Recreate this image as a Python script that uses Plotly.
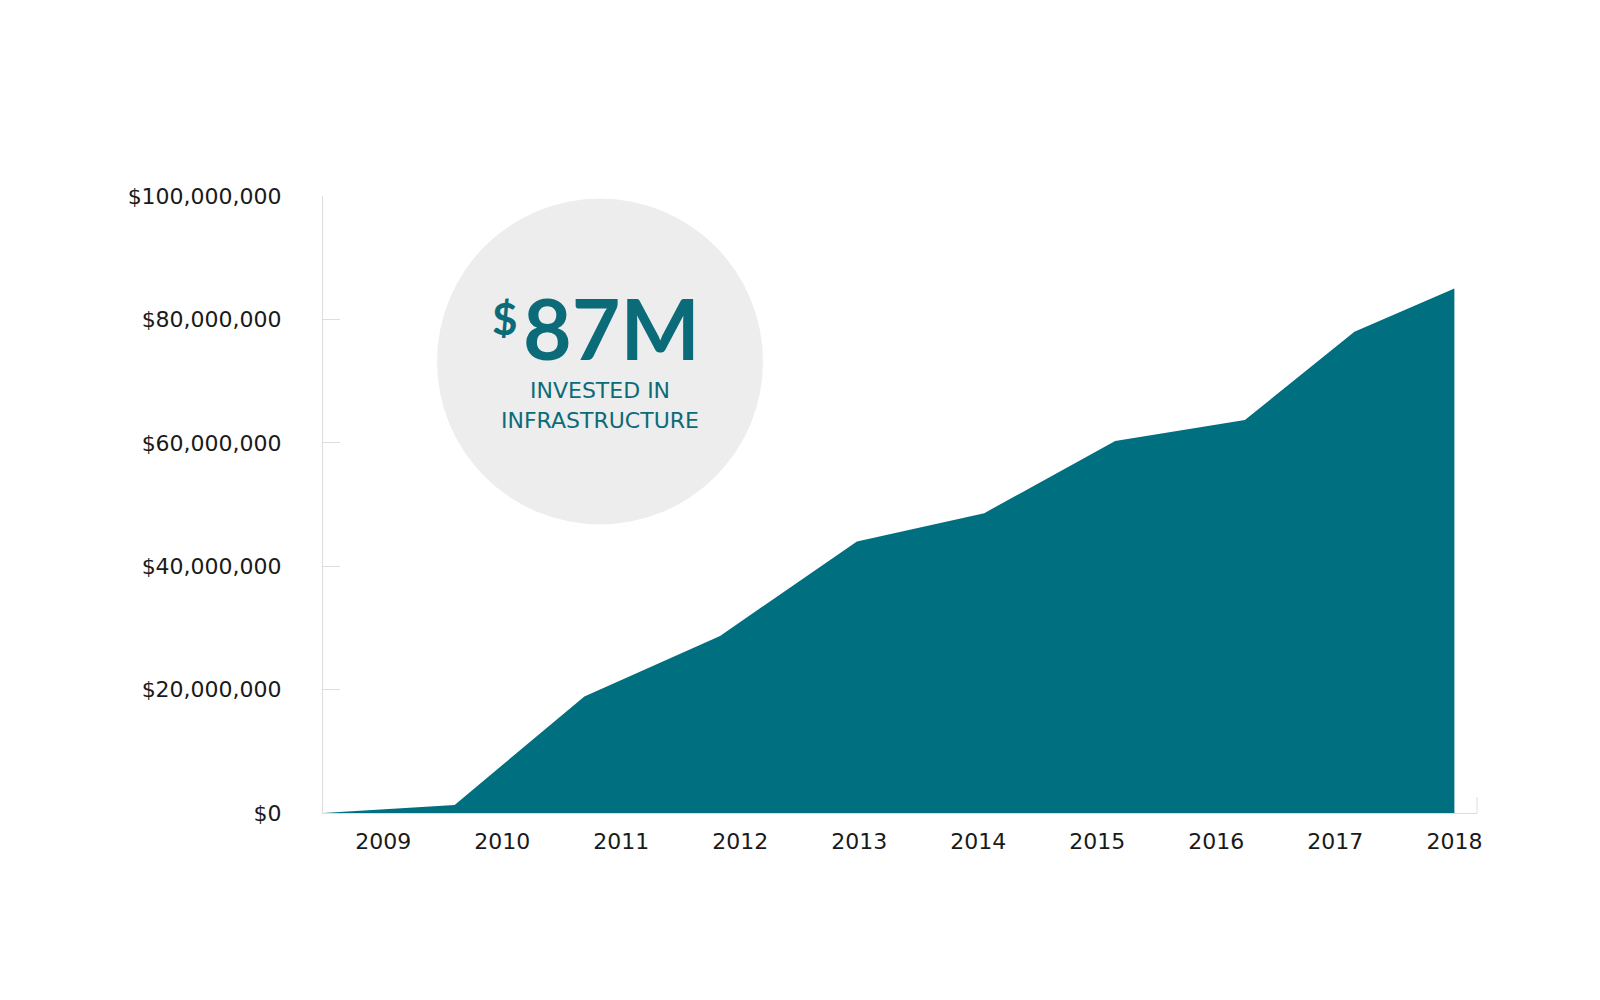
import plotly.graph_objects as go

# Data (x in fractional years, y in dollars)
year_labels = ["2009", "2010", "2011", "2012", "2013", "2014", "2015", "2016", "2017", "2018"]
year_ticks = [2009, 2010, 2011, 2012, 2013, 2014, 2015, 2016, 2017, 2018]
point_x = [2008.494, 2009.60, 2010.69, 2011.83, 2012.98, 2014.05, 2015.15, 2016.24, 2017.16, 2018.0]
invested = [0, 1_300_000, 18_900_000, 28_700_000, 44_000_000, 48_600_000, 60_300_000, 63_700_000, 78_000_000, 85_000_000]
y_ticks = [0, 20_000_000, 40_000_000, 60_000_000, 80_000_000, 100_000_000]
y_labels = ["$0", "$20,000,000", "$40,000,000", "$60,000,000", "$80,000,000", "$100,000,000"]

TEAL = "#006f80"
TEXT_TEAL = "#0b6b79"
FONT = "DejaVu Sans"
BIG_FONT = "Lato"
LABEL = "#1a1a1a"

fig = go.Figure()
fig.add_trace(go.Scatter(
    x=point_x, y=invested, mode="lines", fill="tozeroy",
    fillcolor=TEAL, line=dict(width=0, color=TEAL), hoverinfo="skip",
    showlegend=False,
))

fig.update_layout(
    width=1600, height=1000,
    margin=dict(l=315, r=131, t=188, b=195),
    paper_bgcolor="white", plot_bgcolor="white",
    font=dict(family=FONT, color=LABEL, size=22),
    xaxis=dict(
        range=[2008.494, 2018.19], tickvals=year_ticks, ticktext=year_labels,
        showgrid=False, zeroline=False, showline=True, linecolor="#dddddd",
        linewidth=1, ticks="", ticklabelstandoff=9,
        tickfont=dict(family=FONT, size=22, color=LABEL),
    ),
    yaxis=dict(
        range=[0, 100_000_000], tickvals=y_ticks, ticktext=y_labels,
        showgrid=False, zeroline=False, showline=True, linecolor="#dddddd",
        linewidth=1, ticks="inside", ticklen=17, tickcolor="#dddddd",
        ticklabelstandoff=36,
        tickfont=dict(family=FONT, size=22, color=LABEL),
    ),
    shapes=[
        dict(type="circle", xref="paper", yref="paper",
             x0=0.0988, x1=0.3813, y0=0.4676, y1=0.9959,
             fillcolor="#ededed", line=dict(width=0), layer="below"),
        dict(type="line", xref="paper", yref="paper",
             x0=1, x1=1, y0=0, y1=0.026,
             line=dict(color="#dddddd", width=1)),
    ],
    annotations=[
        dict(text="<b>87M</b>", xref="paper", yref="paper", x=0.2504, y=0.7874,
             xanchor="center", yanchor="middle", showarrow=False, height=72,
             valign="middle",
             font=dict(family=BIG_FONT, size=84, color=TEXT_TEAL)),
        dict(text="<b>$</b>", xref="paper", yref="paper", x=0.158, y=0.803,
             xanchor="center", yanchor="middle", showarrow=False, height=40,
             valign="middle",
             font=dict(family=BIG_FONT, size=44, color=TEXT_TEAL)),
        dict(text="INVESTED IN", xref="paper", yref="paper", x=0.240, y=0.6855,
             xanchor="center", yanchor="middle", showarrow=False,
             font=dict(family=FONT, size=22, color=TEXT_TEAL)),
        dict(text="INFRASTRUCTURE", xref="paper", yref="paper", x=0.240, y=0.6355,
             xanchor="center", yanchor="middle", showarrow=False,
             font=dict(family=FONT, size=22, color=TEXT_TEAL)),
    ],
)

fig.write_html("out.html")
